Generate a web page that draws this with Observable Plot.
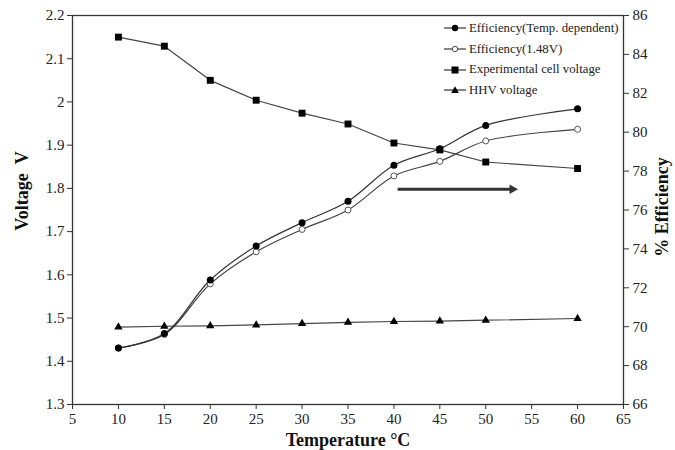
<!DOCTYPE html>
<html>
<head>
<meta charset="utf-8">
<script src="https://cdn.jsdelivr.net/npm/d3@7"></script>
<script src="https://cdn.jsdelivr.net/npm/@observablehq/plot@0.6"></script>
<style>
  body { margin: 0; background: #fff; }
  #wrap { position: relative; width: 675px; height: 450px; font-family: "Liberation Serif", "Times New Roman", serif; }
  #legend { position: absolute; left: 443px; top: 18px; font-size: 12.8px; color: #222; }
  #legend .row { display: flex; align-items: center; height: 20.7px; white-space: nowrap; }
  #legend svg { width: 25px; height: 14px; margin-right: 1px; flex: none; }
</style>
</head>
<body>
<div id="wrap"><div id="legend"></div></div>
<script>
// ---- data ----
const temps     = [10, 15, 20, 25, 30, 35, 40, 45, 50, 60];
const effTemp   = [68.9, 69.65, 72.4, 74.15, 75.35, 76.45, 78.3, 79.15, 80.35, 81.2];
const eff148    = [68.9, 69.6, 72.2, 73.85, 75.0, 76.0, 77.75, 78.5, 79.55, 80.15];
const cellV     = [2.15, 2.129, 2.05, 2.004, 1.974, 1.949, 1.905, 1.889, 1.861, 1.846];
const hhvV      = [1.479, 1.481, 1.482, 1.484, 1.487, 1.490, 1.492, 1.493, 1.495, 1.499];
const seriesNames = ["Efficiency(Temp. dependent)", "Efficiency(1.48V)", "Experimental cell voltage", "HHV voltage"];
const xTicks    = [5, 10, 15, 20, 25, 30, 35, 40, 45, 50, 55, 60, 65];
const yTicks    = [1.3, 1.4, 1.5, 1.6, 1.7, 1.8, 1.9, 2.0, 2.1, 2.2];
const effTicks  = [66, 68, 70, 72, 74, 76, 78, 80, 82, 84, 86];
const arrowX    = [40.4, 52.9];   // shaft start, head centre (temperature units)
const arrowY    = [1.798];
const axisTitles = ["Voltage\u00a0\u00a0V", "Temperature °C", "% Efficiency"];

// secondary axis mapping (efficiency -> voltage scale)
const vDom = [1.3, 2.2], eDom = [66, 86];
const eToV = e => vDom[0] + (e - eDom[0]) * (vDom[1] - vDom[0]) / (eDom[1] - eDom[0]);
const vToE = v => eDom[0] + (v - vDom[0]) * (eDom[1] - eDom[0]) / (vDom[1] - vDom[0]);

const rows = temps.map((t, i) => ({t, effT: eToV(effTemp[i]), eff1: eToV(eff148[i]), cell: cellV[i], hhv: hhvV[i]}));
const arrow = [{x1: arrowX[0], x2: arrowX[1], y: arrowY[0]}];

const ink = "#333";
const font = "Liberation Serif, Times New Roman, serif";
const titleStyle = {fontWeight: "bold", fontSize: 18, fill: "#111", textAnchor: "middle", lineAnchor: "middle"};

const plot = Plot.plot({
  width: 675, height: 450,
  marginLeft: 72, marginRight: 52, marginTop: 15, marginBottom: 46,
  style: {fontFamily: font, fontSize: "15px", color: "#222", background: "#fff", overflow: "visible"},
  x: {domain: [5, 65]},
  y: {domain: vDom},
  marks: [
    Plot.frame({stroke: ink, strokeWidth: 1.3}),
    Plot.axisX({ticks: xTicks, tickSize: 5, tickPadding: 4, label: null, stroke: ink, tickFormat: d => String(d)}),
    Plot.axisY({ticks: yTicks, tickSize: 5, tickPadding: 3, label: null, stroke: ink, tickFormat: d => String(+d.toFixed(1))}),
    Plot.axisY({anchor: "right", ticks: effTicks.map(eToV), tickSize: 5, tickPadding: 4, label: null, stroke: ink,
                tickFormat: v => String(Math.round(vToE(v)))}),
    Plot.line(rows, {x: "t", y: "cell", stroke: "#444", strokeWidth: 1.2}),
    Plot.line(rows, {x: "t", y: "hhv", stroke: "#444", strokeWidth: 1.2}),
    Plot.line(rows, {x: "t", y: "eff1", curve: "catmull-rom", stroke: "#444", strokeWidth: 1.2}),
    Plot.line(rows, {x: "t", y: "effT", curve: "catmull-rom", stroke: "#333", strokeWidth: 1.2}),
    Plot.dot(rows, {x: "t", y: "cell", symbol: "square", r: 3.9, fill: "#000"}),
    Plot.dot(rows, {x: "t", y: "hhv", symbol: "triangle", r: 3.1, fill: "#000"}),
    Plot.dot(rows, {x: "t", y: "eff1", symbol: "circle", r: 3, fill: "#fff", stroke: "#555", strokeWidth: 1}),
    Plot.dot(rows, {x: "t", y: "effT", symbol: "circle", r: 3.5, fill: "#000"}),
    Plot.link(arrow, {x1: "x1", x2: "x2", y1: "y", y2: "y", stroke: ink, strokeWidth: 3}),
    Plot.dot(arrow, {x: "x2", y: "y", symbol: "triangle", r: 3.6, rotate: 90, fill: ink}),
    Plot.text([axisTitles[0]], {frameAnchor: "left", dx: -50, dy: -19, rotate: -90, ...titleStyle}),
    Plot.text([axisTitles[1]], {frameAnchor: "bottom", dy: 36, ...titleStyle}),
    Plot.text([axisTitles[2]], {frameAnchor: "right", dx: 39, dy: -3, rotate: -90, ...titleStyle})
  ]
});
document.getElementById("wrap").prepend(plot);

// ---- legend ----
const markers = [
  `<circle cx="12" cy="7" r="3.2" fill="#000"/>`,
  `<circle cx="12" cy="7" r="2.7" fill="#fff" stroke="#555"/>`,
  `<rect x="8.5" y="3.5" width="7" height="7" fill="#000"/>`,
  `<path d="M12,3.2 L15.8,10 L8.2,10 Z" fill="#000"/>`
];
const legend = document.getElementById("legend");
seriesNames.forEach((name, i) => {
  const row = document.createElement("div");
  row.className = "row";
  row.innerHTML = `<svg viewBox="0 0 25 14"><line x1="1" y1="7" x2="23" y2="7" stroke="#333" stroke-width="1.2"/>${markers[i]}</svg><span>${name}</span>`;
  legend.appendChild(row);
});
</script>
</body>
</html>
